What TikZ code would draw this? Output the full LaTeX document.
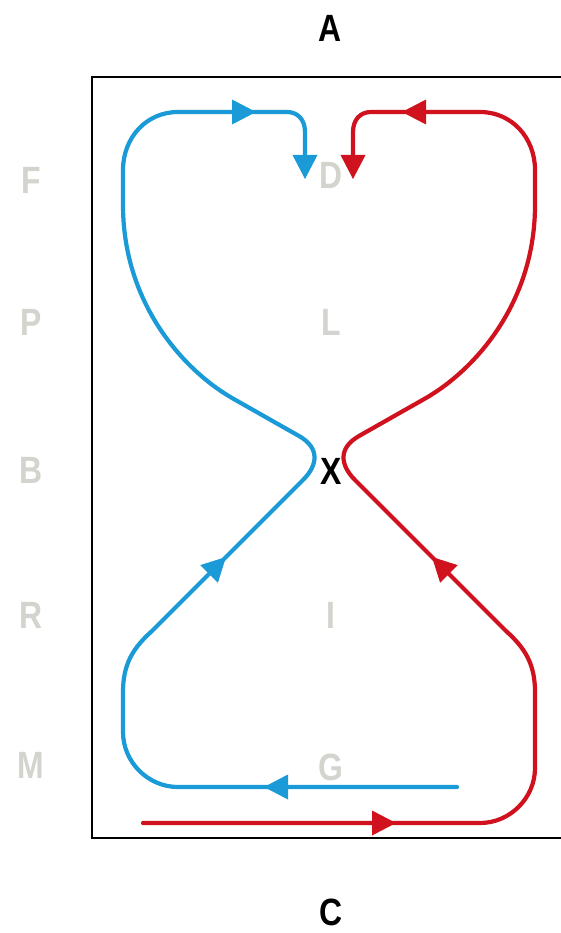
\documentclass[tikz,border=0pt]{standalone}
\usepackage{fontspec}
\setmainfont{Liberation Sans}
\definecolor{cblue}{RGB}{26,154,214}
\definecolor{cred}{RGB}{208,18,30}
\definecolor{cgray}{RGB}{212,212,206}
\newcommand\tiphead[3]{\fill[#1,shift={(#2)},rotate=#3] (0,0) -- (-24,-12.5) -- (-24,12.5) -- cycle;}
\begin{document}
\begin{tikzpicture}[x=1pt,y=-1pt,
  lbl/.style={font=\fontsize{38}{38}\selectfont\bfseries, inner sep=0pt, anchor=base, xscale=0.84},
  faint/.style={lbl, text=cgray},
  flow/.style={line width=4.2pt, line cap=round, line join=round},
  frame/.style={line width=2.2pt, draw=black}]
\useasboundingbox (0,0) rectangle (560,933);
\fill[white] (0,0) rectangle (560,933);
% frame (right side runs past the edge)
\draw[frame] (566,77) -- (92,77) -- (92,838) -- (566,838);
% titles
\node[lbl] (tA) at (330,42) {A};
\node[lbl] (tC) at (331,925) {C};
% left labels
\node[faint] (lF) at (31,194) {F};
\node[faint] (lP) at (31,335) {P};
\node[faint] (lB) at (31,483) {B};
\node[faint] (lR) at (31,628) {R};
\node[faint] (lM) at (31,778) {M};
% interior labels
\node[faint] (iD) at (331,189) {D};
\node[faint] (iL) at (331,335) {L};
\node[lbl] (iX) at (331,484) {X};
\node[faint] (iI) at (331,628) {I};
\node[faint] (iG) at (331,780) {G};
% blue path
\draw[flow, cblue] (457,787) -- (178,787) .. controls (148,787) and (123,762) .. (123,732)
  -- (123,692) .. controls (123,664) and (133,648) .. (152,631)
  -- (303,480) .. controls (318,465) and (320,448) .. (299,436)
  -- (232,398) .. controls (182,369) and (123,302) .. (123,205)
  -- (123,170) .. controls (123,138) and (146,112) .. (178,112)
  -- (287,112) .. controls (298,112) and (305,120) .. (305,132) -- (305,160);
% red path
\draw[flow, cred] (143,823) -- (480,823) .. controls (510,823) and (535,798) .. (535,768)
  -- (535,692) .. controls (535,664) and (525,648) .. (506,631)
  -- (355,480) .. controls (340,465) and (338,448) .. (359,436)
  -- (426,398) .. controls (476,369) and (535,302) .. (535,205)
  -- (535,170) .. controls (535,138) and (512,112) .. (480,112)
  -- (371,112) .. controls (360,112) and (353,120) .. (353,132) -- (353,160);
% arrowheads
\tiphead{cblue}{256,112}{0}
\tiphead{cblue}{305,179}{-90}
\tiphead{cblue}{226,557}{45}
\tiphead{cblue}{264,787}{180}
\tiphead{cred}{402,112}{180}
\tiphead{cred}{353,179}{-90}
\tiphead{cred}{432,557}{135}
\tiphead{cred}{396,823}{0}
\end{tikzpicture}
\end{document}
